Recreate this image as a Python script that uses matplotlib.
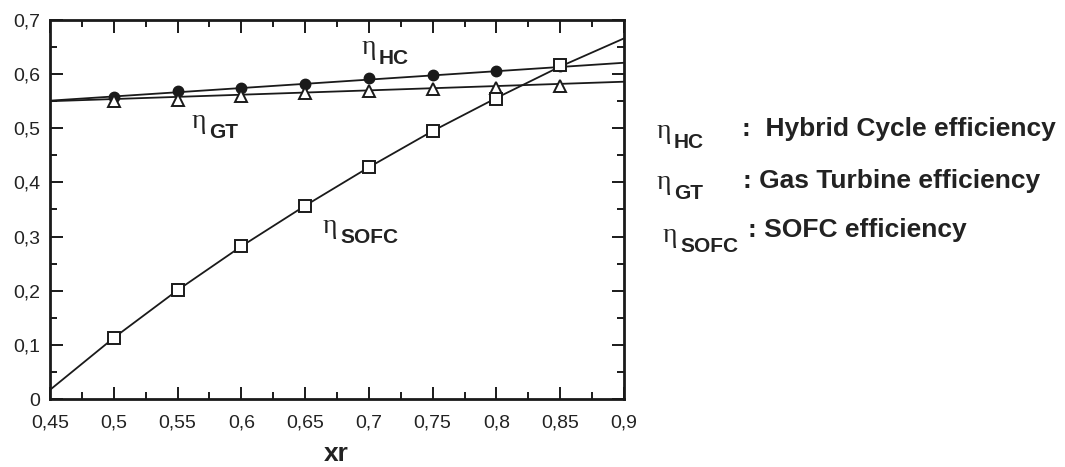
import matplotlib
matplotlib.use("Agg")
import matplotlib.pyplot as plt
from matplotlib.ticker import MultipleLocator, FuncFormatter
from matplotlib.transforms import offset_copy

plt.rcParams["font.family"] = ["Liberation Sans", "DejaVu Sans"]

# measured points
xr = [0.5, 0.55, 0.6, 0.65, 0.7, 0.75, 0.8, 0.85]
eta_hc = [0.557, 0.568, 0.574, 0.581, 0.592, 0.599, 0.606, 0.615]
eta_gt = [0.551, 0.553, 0.560, 0.565, 0.569, 0.572, 0.574, 0.578]
eta_sofc = [0.113, 0.201, 0.282, 0.357, 0.428, 0.495, 0.554, 0.616]

# fit lines
hc_fit_x = [0.45, 0.9]
hc_fit_y = [0.551, 0.621]
gt_fit_x = [0.45, 0.9]
gt_fit_y = [0.550, 0.586]
sofc_fit_x = [0.45, 0.5, 0.55, 0.6, 0.65, 0.7, 0.75, 0.8, 0.85, 0.9]
sofc_fit_y = [0.017, 0.113, 0.201, 0.282, 0.357, 0.428, 0.495, 0.556, 0.614, 0.666]

key_subs = ["HC", "GT", "SOFC"]
key_texts = [":  Hybrid Cycle efficiency", ": Gas Turbine efficiency", ": SOFC efficiency"]

ink = "#1a1a1a"
txt_c = "#222222"
W, H = 1065.0, 467.0

fig = plt.figure(figsize=(10.65, 4.67), dpi=100)
ax = fig.add_axes([0.047, 0.1456, 0.5389, 0.8116])

ax.plot(hc_fit_x, hc_fit_y, color=ink, lw=1.3)
ax.plot(gt_fit_x, gt_fit_y, color=ink, lw=1.3)
ax.plot(sofc_fit_x, sofc_fit_y, color=ink, lw=1.3)

ax.plot(xr, eta_hc, ls="none", marker="o", ms=7.5, color=ink, zorder=3)
ax.plot(xr, eta_gt, ls="none", marker="^", ms=8.5, mfc="white", mec=ink, mew=1.4, zorder=3)
ax.plot(xr, eta_sofc, ls="none", marker="s", ms=8.5, mfc="white", mec=ink, mew=1.4, zorder=4)

ax.set_xlim(0.45, 0.9)
ax.set_ylim(0, 0.7)
ax.xaxis.set_major_locator(MultipleLocator(0.05))
ax.xaxis.set_minor_locator(MultipleLocator(0.025))
ax.yaxis.set_major_locator(MultipleLocator(0.1))
ax.yaxis.set_minor_locator(MultipleLocator(0.05))


def comma(v, pos):
    s = f"{v:.2f}".rstrip("0").rstrip(".")
    return s.replace(".", ",")


ax.xaxis.set_major_formatter(FuncFormatter(comma))
ax.yaxis.set_major_formatter(FuncFormatter(comma))
ax.tick_params(which="both", direction="in", top=True, right=True, color=ink, width=1.4)
ax.tick_params(which="major", length=9, labelsize=14, labelcolor=txt_c)
ax.tick_params(which="minor", length=5)
ax.tick_params(axis="x", which="major", pad=11)
ax.tick_params(axis="y", which="major", pad=7)
for sp in ax.spines.values():
    sp.set_linewidth(2)
    sp.set_color(ink)

fig.text(336 / W, 1 - 461 / H, "xr", fontsize=19, fontweight="bold", color=txt_c,
         ha="center", va="baseline")


def eta_label(x, y, sub, trans):
    # eta glyph, then a bold subscript shifted right and down
    fig.text(x, y, "\u03b7", transform=trans, fontsize=20, family="Liberation Serif",
             color=txt_c, va="baseline", ha="left")
    fig.text(x, y, sub, transform=offset_copy(trans, fig=fig, x=17, y=-10, units="dots"),
             fontsize=15, fontweight="bold", color=txt_c, va="baseline", ha="left")


eta_label(0.6946, 0.637, "HC", ax.transData)
eta_label(0.5613, 0.500, "GT", ax.transData)
eta_label(0.664, 0.307, "SOFC", ax.transData)

# side key, placed in pixel positions
eta_xy = [(657, 138), (657, 189), (663, 242)]
text_xy = [(742, 136), (743, 188), (748, 237)]
for (ex, ey), (tx, ty), sub, txt in zip(eta_xy, text_xy, key_subs, key_texts):
    eta_label(ex / W, 1 - ey / H, sub, fig.transFigure)
    fig.text(tx / W, 1 - ty / H, txt, fontsize=19, fontweight="bold", color=txt_c,
             va="baseline", ha="left")

fig.savefig("out.png", dpi=100)
